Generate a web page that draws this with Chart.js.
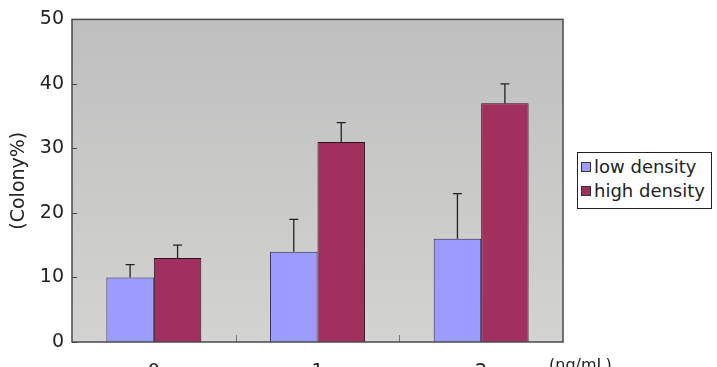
<!DOCTYPE html>
<html>
<head>
<meta charset="utf-8">
<script src="https://cdn.jsdelivr.net/npm/chart.js@4/dist/chart.umd.min.js"></script>
<style>
  html, body { margin:0; padding:0; background:#fff; overflow:hidden; }
  #wrap { position:relative; width:717px; height:367px; }
  canvas { position:absolute; left:0; top:0; }
  #legend { position:absolute; left:577px; top:152px; width:135px; height:57px; border:1px solid #222; box-sizing:border-box; background:#fff;
    font-family:"DejaVu Sans", sans-serif; font-size:18px; color:#222; padding:2px 0 0 3px; line-height:24px; white-space:nowrap; }
  #legend .sw { display:inline-block; width:8px; height:8px; border:1px solid #333; margin-right:3px; vertical-align:1px; }
  #unit { position:absolute; left:549px; top:355px; font-family:"DejaVu Sans", sans-serif; font-size:16px; color:#222; }
</style>
</head>
<body>
<div id="wrap">
  <canvas id="c" width="717" height="367"></canvas>
  <div id="legend"></div>
  <div id="unit">(ng/mL)</div>
</div>
<script>
const categories = ["0", "1", "2"];
const lowDensity = [10, 14, 16];
const lowDensityErr = [2, 5, 7];
const highDensity = [13, 31, 37];
const highDensityErr = [2, 3, 3];
const yTicks = [0, 10, 20, 30, 40, 50];
const seriesNames = ["low density", "high density"];
const seriesColors = ["#9c9cff", "#a0305e"];

const legend = document.getElementById('legend');
seriesNames.forEach((n, i) => {
  const d = document.createElement('div');
  d.innerHTML = '<span class="sw" style="background:' + seriesColors[i] + '"></span>' + n;
  legend.appendChild(d);
});

const errs = [lowDensityErr, highDensityErr];
const FONT = '"DejaVu Sans", sans-serif';

const plotBg = {
  id: 'plotBg',
  beforeDraw(chart) {
    const {ctx, chartArea: a} = chart;
    const g = ctx.createLinearGradient(0, a.top, 0, a.bottom);
    g.addColorStop(0, '#bfbfbf');
    g.addColorStop(1, '#d3d3d1');
    ctx.save();
    ctx.fillStyle = g;
    ctx.fillRect(a.left, a.top, a.right - a.left, a.bottom - a.top);
    ctx.restore();
  },
  afterDatasetsDraw(chart) {
    const {ctx, chartArea: a} = chart;
    const y = chart.scales.y, x = chart.scales.x;
    ctx.save();
    ctx.strokeStyle = '#222';
    ctx.lineWidth = 1.3;
    chart.data.datasets.forEach((ds, di) => {
      const meta = chart.getDatasetMeta(di);
      meta.data.forEach((bar, i) => {
        const v = ds.data[i];
        const top = y.getPixelForValue(v + errs[di][i]);
        const base = y.getPixelForValue(v);
        ctx.beginPath();
        ctx.moveTo(bar.x, base);
        ctx.lineTo(bar.x, top);
        ctx.moveTo(bar.x - 4.5, top);
        ctx.lineTo(bar.x + 4.5, top);
        ctx.stroke();
      });
    });
    ctx.strokeStyle = '#444';
    ctx.lineWidth = 1;
    yTicks.forEach(t => {
      const py = Math.round(y.getPixelForValue(t)) + 0.5;
      ctx.beginPath();
      ctx.moveTo(a.left, py);
      ctx.lineTo(a.left + 5, py);
      ctx.stroke();
    });
    ctx.strokeStyle = '#777';
    for (let i = 1; i < categories.length; i++) {
      const px = Math.round((x.getPixelForValue(i - 1) + x.getPixelForValue(i)) / 2) + 0.5;
      ctx.beginPath();
      ctx.moveTo(px, a.bottom);
      ctx.lineTo(px, a.bottom - 7);
      ctx.stroke();
    }
    ctx.strokeStyle = '#4a4a4a';
    ctx.lineWidth = 1.5;
    ctx.strokeRect(a.left, a.top, a.right - a.left, a.bottom - a.top);
    ctx.restore();
  }
};

new Chart(document.getElementById('c'), {
  type: 'bar',
  data: {
    labels: categories,
    datasets: [
      { label: seriesNames[0], data: lowDensity, backgroundColor: seriesColors[0], borderColor: '#2a2a55', borderWidth: 1 },
      { label: seriesNames[1], data: highDensity, backgroundColor: seriesColors[1], borderColor: '#2a1020', borderWidth: 1 }
    ]
  },
  options: {
    responsive: false,
    animation: false,
    events: [],
    layout: { padding: { left: 0, right: 154, top: 19, bottom: 0 } },
    plugins: { legend: { display: false }, tooltip: { enabled: false } },
    datasets: { bar: { categoryPercentage: 0.58, barPercentage: 1.0 } },
    scales: {
      x: {
        grid: { display: false, drawTicks: false },
        border: { display: false },
        ticks: { padding: 19, color: '#222', font: { family: FONT, size: 19 } },
        afterFit(s) { s.height = 25; }
      },
      y: {
        min: 0, max: 50,
        afterBuildTicks(s) { s.ticks = yTicks.map(v => ({ value: v })); },
        grid: { display: false, drawTicks: false },
        border: { display: false },
        ticks: { padding: 8, color: '#222', font: { family: FONT, size: 19 } },
        title: { display: true, text: '(Colony%)', color: '#222', padding: { top: 8, bottom: 0 }, font: { family: FONT, size: 19 } },
        afterFit(s) { s.width = 72; }
      }
    }
  },
  plugins: [plotBg]
});
</script>
</body>
</html>
